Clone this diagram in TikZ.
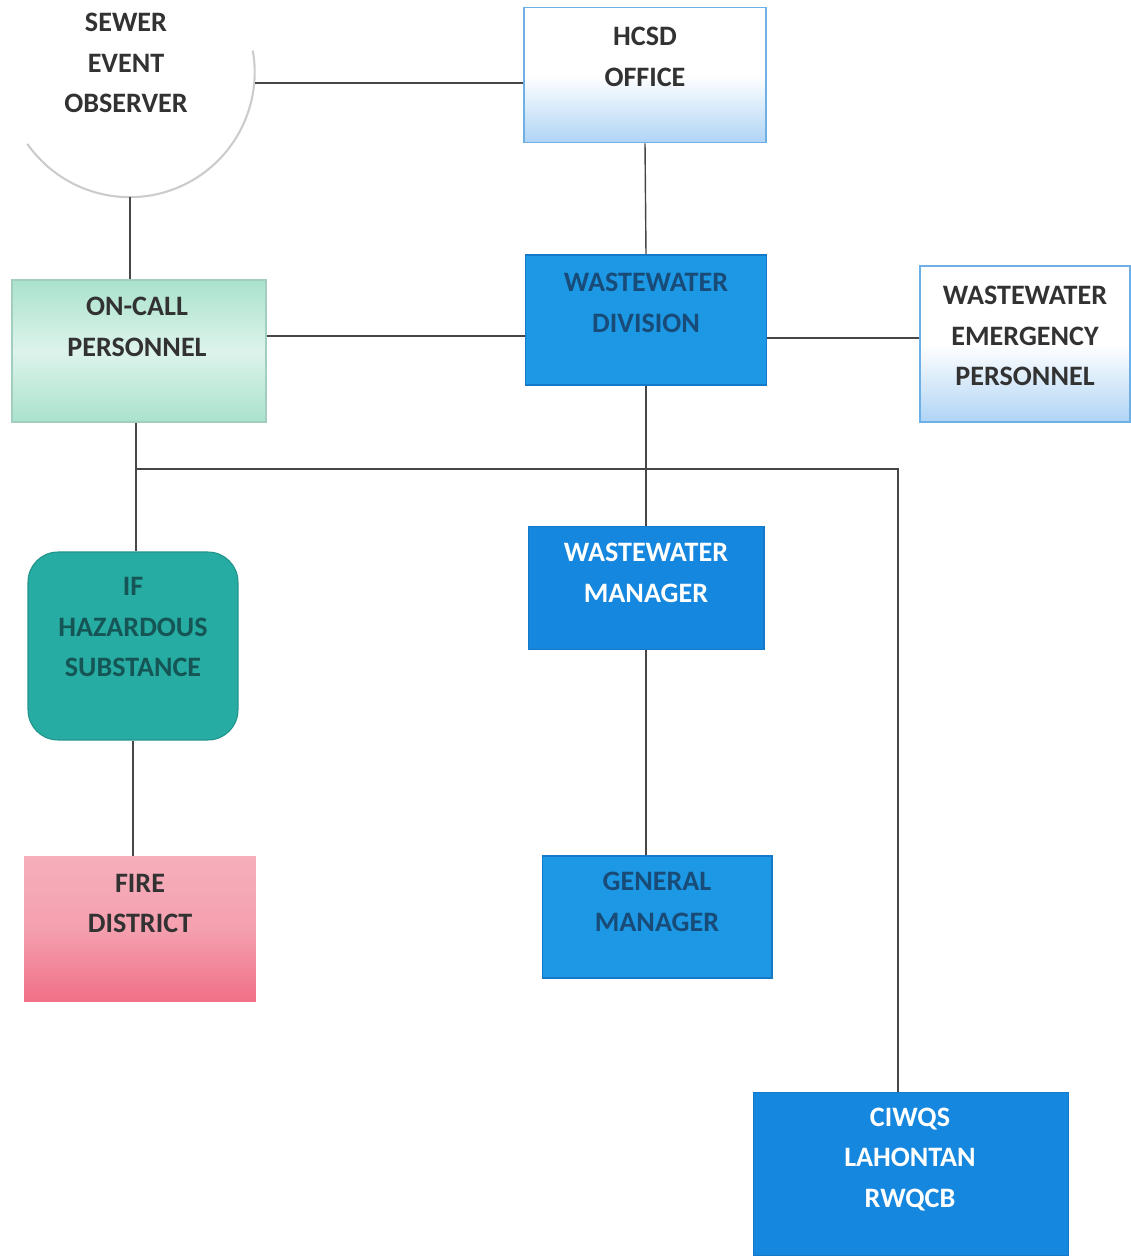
\documentclass[tikz,border=0pt]{standalone}
\usepackage{fontspec}
\setmainfont{Carlito}
\usetikzlibrary{positioning,calc}
\definecolor{inkgray}{RGB}{50,50,50}
\definecolor{linegray}{RGB}{70,70,70}
\definecolor{paleblue}{RGB}{175,212,245}
\definecolor{edgeblue}{RGB}{110,175,230}
\definecolor{brightblue}{RGB}{28,152,228}
\definecolor{midblue}{RGB}{22,135,222}
\definecolor{deepblue}{RGB}{25,75,120}
\definecolor{mint}{RGB}{170,226,205}
\definecolor{teal}{RGB}{38,172,162}
\definecolor{darkteal}{RGB}{22,85,85}
\definecolor{pinktop}{RGB}{246,175,188}
\definecolor{pinkbot}{RGB}{240,112,135}

\begin{document}
\begin{tikzpicture}[
    x=0.02cm, y=-0.02cm,
    box/.style={rectangle, inner sep=0pt},
    txt/.style={align=center, font=\fontsize{16}{23}\selectfont\bfseries, text=inkgray, inner sep=0pt},
    light/.style={box, top color=white, bottom color=paleblue, middle color=white, draw=edgeblue, line width=1pt},
    solid/.style={box, fill=brightblue, draw=midblue!90!black, line width=0.6pt},
    link/.style={draw=linegray, line width=0.8pt}
]
    \useasboundingbox (0,0) rectangle (1130,1260);

    % top row
    \node[circle, minimum size=5cm, inner sep=0pt, fill=white,
          label={[txt, xshift=-0.08cm, yshift=0.18cm]center:SEWER\\EVENT\\OBSERVER}] (observer) at (130,72) {};
    \draw[gray!40, line width=1.2pt] (observer.-145) arc[start angle=-145, end angle=10, radius=2.5cm];
    \node[light, minimum width=4.84cm, minimum height=2.7cm,
          label={[txt, yshift=0.36cm]center:HCSD\\OFFICE}] (hcsd) at (645,75) {};

    % second row
    \node[box, minimum width=5.08cm, minimum height=2.84cm, top color=mint, bottom color=mint,
          middle color=mint!40, draw=mint!80!gray, line width=1pt,
          label={[txt, xshift=-0.04cm, yshift=0.48cm]center:ON-CALL\\PERSONNEL}] (oncall) at (139,351) {};
    \node[solid, minimum width=4.82cm, minimum height=2.6cm,
          label={[txt, text=deepblue, yshift=0.34cm]center:WASTEWATER\\DIVISION}] (division) at (646,320) {};
    \node[light, minimum width=4.2cm, minimum height=3.12cm,
          label={[txt, yshift=0.16cm]center:WASTEWATER\\EMERGENCY\\PERSONNEL}] (emergency) at (1025,344) {};

    % third row
    \node[box, rounded corners=0.6cm, minimum width=4.2cm, minimum height=3.76cm, fill=teal,
          draw=teal!85!black, line width=0.6pt,
          label={[txt, text=darkteal, yshift=0.38cm]center:IF\\HAZARDOUS\\SUBSTANCE}] (hazard) at (133,646) {};
    \node[solid, fill=midblue, minimum width=4.72cm, minimum height=2.46cm,
          label={[txt, text=white, yshift=0.3cm]center:WASTEWATER\\MANAGER}] (manager) at (646,588) {};

    % fourth row
    \node[box, minimum width=4.64cm, minimum height=2.9cm, top color=pinktop, bottom color=pinkbot,
          middle color=pinktop!75!pinkbot,
          label={[txt, yshift=0.51cm]center:FIRE\\DISTRICT}] (fire) at (140,929) {};
    \node[solid, minimum width=4.6cm, minimum height=2.44cm,
          label={[txt, text=deepblue, yshift=0.3cm]center:GENERAL\\MANAGER}] (general) at (657,917) {};
    \node[solid, fill=midblue, minimum width=6.3cm, minimum height=3.26cm,
          label={[txt, text=white, xshift=-0.02cm, yshift=0.29cm]center:CIWQS\\LAHONTAN\\RWQCB}] (ciwqs) at (911,1174) {};

    % connectors
    \draw[link] (observer.-5) -- (observer.-5 -| hcsd.west);
    \draw[link] (observer.south) -- (observer.south |- oncall.north);
    \draw[link] (hcsd.south) -- (division.north);
    \draw[link] ([yshift=0.3cm]oncall.east) -- ([yshift=0.3cm]oncall.east -| division.west);
    \draw[link] ([yshift=-0.36cm]division.east) -- ([yshift=-0.36cm]division.east -| emergency.west);
    \draw[link] (division.south) -- (division.south |- manager.north);
    \draw[link] ([xshift=-0.06cm]oncall.south) -- ([xshift=-0.06cm]oncall.south |- hazard.north);
    \coordinate (branch) at ($([xshift=-0.06cm]oncall.south)+(0,46)$);
    \coordinate (ciwqstop) at ([xshift=-0.26cm]ciwqs.north);
    \draw[link] (branch) -- (branch -| ciwqstop) -- (ciwqstop);
    \draw[link] (hazard.south) -- (hazard.south |- fire.north);
    \draw[link] (manager.south) -- (manager.south |- general.north);
\end{tikzpicture}
\end{document}
